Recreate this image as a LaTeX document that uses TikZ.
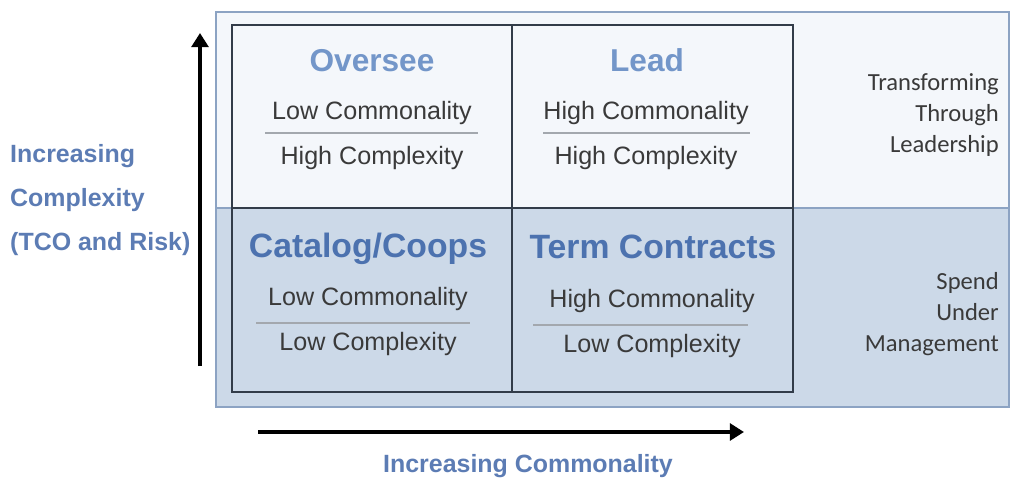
\documentclass[tikz,border=0pt]{standalone}
\usepackage{fontspec}
\setmainfont{Liberation Sans}
\newfontfamily\sidefont{Carlito}
\usetikzlibrary{arrows.meta}

\definecolor{titleblue}{HTML}{7396C9}
\definecolor{darkblue}{HTML}{4C72AF}
\definecolor{labelblue}{HTML}{5C7CB4}
\definecolor{textgray}{HTML}{3A3A3A}
\definecolor{lightfill}{HTML}{F4F7FB}
\definecolor{darkfill}{HTML}{CCD9E8}
\definecolor{framecol}{HTML}{8CA3C3}
\definecolor{gridcol}{HTML}{323C49}
\definecolor{rulecol}{HTML}{A3A8AE}

\begin{document}
\begin{tikzpicture}[x=0.02cm,y=-0.02cm,
  quadtitle/.style={anchor=base,font=\bfseries\fontsize{18}{20}\selectfont,text=titleblue},
  bigtitle/.style={anchor=base,font=\bfseries\fontsize{19.2}{21}\selectfont,text=darkblue},
  subtext/.style={anchor=base,font=\fontsize{14.3}{16}\selectfont,text=textgray},
  sidetext/.style={anchor=east,align=right,font=\sidefont\fontsize{14}{17.6}\selectfont,text=textgray},
  axislabel/.style={font=\bfseries\fontsize{14.2}{25}\selectfont,text=labelblue},
  axis/.style={line width=2.3pt,-{Triangle[width=9.5pt,length=8pt]}},
  divider/.style={line width=0.8pt,rulecol}]

\useasboundingbox (0,0) rectangle (1013,479);

% Background halves
\fill[lightfill] (216,12) rectangle (1009,208);
\fill[darkfill] (216,208) rectangle (1009,407);
\draw[framecol,line width=1.2pt] (216,208) -- (1009,208);
\draw[framecol,line width=1.5pt] (216,12) rectangle (1009,407);

% Grid
\draw[gridcol,line width=1.3pt] (232,25) rectangle (793,392);
\draw[gridcol,line width=1.3pt] (512,25) -- (512,392);
\draw[gridcol,line width=1.3pt] (232,208) -- (793,208);

% Top left
\node[quadtitle] (oversee) at (372,72) {Oversee};
\node[subtext] (ovcom) at (372,120) {Low Commonality};
\draw[divider] (265,133) -- (478,133);
\node[subtext] (ovcpx) at (372,165) {High Complexity};

% Top right
\node[quadtitle] (lead) at (647,72) {Lead};
\node[subtext] (ldcom) at (646,120) {High Commonality};
\draw[divider] (543,133) -- (750,133);
\node[subtext] (ldcpx) at (646,165) {High Complexity};

% Bottom left
\node[bigtitle] (catalog) at (368,257) {Catalog/Coops};
\node[subtext] (cacom) at (368,305) {Low Commonality};
\draw[divider] (256,323) -- (470,323);
\node[subtext] (cacpx) at (368,350) {Low Complexity};

% Bottom right
\node[bigtitle] (term) at (653,258) {Term Contracts};
\node[subtext] (tecom) at (652,307) {High Commonality};
\draw[divider] (533,325) -- (748,325);
\node[subtext] (tecpx) at (652,352) {Low Complexity};

% Right column
\node[sidetext] (transform) at (1005,115) {Transforming\\Through\\Leadership};
\node[sidetext] (spend) at (1005,314) {Spend\\Under\\Management};

% Axes
\coordinate (ybot) at (200,366);
\coordinate (ytop) at (200,33);
\draw[axis] (ybot) -- (ytop);
\coordinate (xleft) at (258,432);
\coordinate (xright) at (744,432);
\draw[axis] (xleft) -- (xright);

% Axis labels
\node[axislabel,anchor=west,align=left] (ylabel) at (4,200) {Increasing\\Complexity\\(TCO and Risk)};
\node[axislabel,anchor=base] (xlabel) at (528,472) {Increasing Commonality};

\end{tikzpicture}
\end{document}
